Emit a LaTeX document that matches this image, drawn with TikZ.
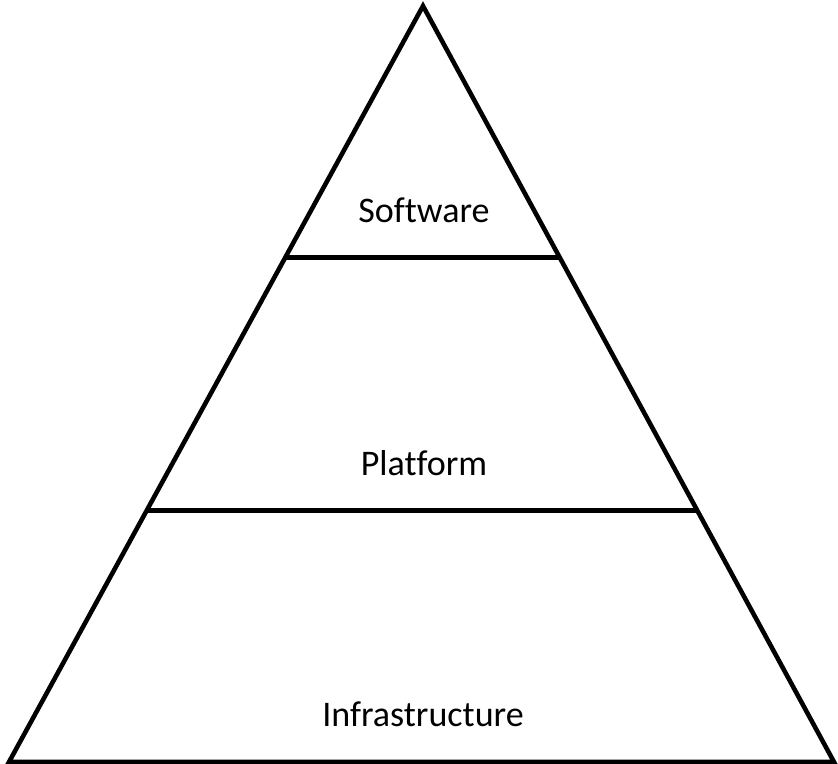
\documentclass[tikz,border=0pt]{standalone}
\usepackage{fontspec}
\setmainfont{Carlito}[Ligatures=NoCommon]
\usetikzlibrary{calc}

\begin{document}
\begin{tikzpicture}[line width=2.6pt, line join=miter,
  every node/.style={font=\fontsize{20.5}{25}\selectfont, anchor=base}]
\useasboundingbox (0,0) rectangle (16.76,15.28);
\coordinate (Top) at (8.46,15.16);
\coordinate (BL) at (0.18,0.04);
\coordinate (BR) at (16.68,0.04);
\coordinate (L1) at ($(BL)!0.667!(Top)$);
\coordinate (R1) at ($(BR)!0.667!(Top)$);
\coordinate (L2) at ($(BL)!0.333!(Top)$);
\coordinate (R2) at ($(BR)!0.333!(Top)$);
\draw (Top) -- (BL) -- (BR) -- cycle;
\draw (L1) -- (R1);
\draw (L2) -- (R2);
\node (Soft) at (8.48,10.82) {Software};
\node (Plat) at (8.48,5.76) {Platform};
\node (Infra) at (8.46,0.74) {Infrastructure};
\end{tikzpicture}
\end{document}
